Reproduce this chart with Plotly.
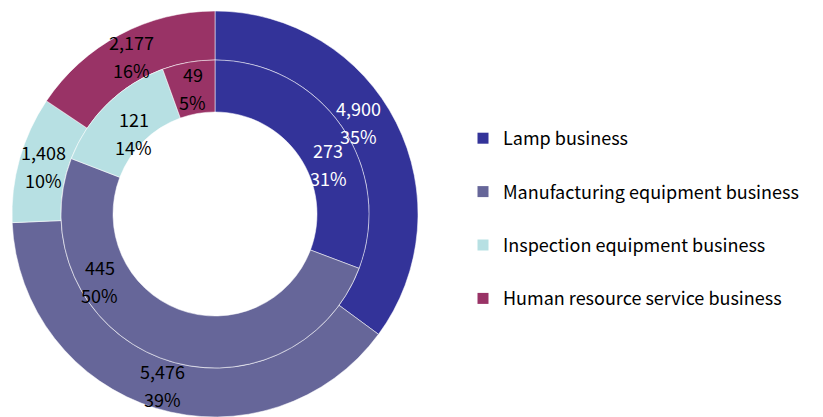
import math
import plotly.graph_objects as go

categories = ["Lamp business", "Manufacturing equipment business",
              "Inspection equipment business", "Human resource service business"]
outer_values = [4900, 5476, 1408, 2177]
outer_pct = ["35%", "39%", "10%", "16%"]
inner_values = [273, 445, 121, 49]
inner_pct = ["31%", "50%", "14%", "5%"]
colors = ["#333399", "#666699", "#B7E0E3", "#993366"]
text_colors = ["white", "black", "black", "black"]

W, H = 823, 417
FONT = "Noto Sans CJK JP"
FS = 18

cx, cy = 215, 214  # centre in px from left/top
r_out, r_mid, r_hole = 203, 154, 102

# manual label placements (angle deg clockwise from top, radius px) that
# the reference moved away from the slice centroid
outer_label_override = {0: (57.3, 171)}
inner_label_override = {0: (66, 124), 1: (240, 133), 2: (315, 115)}


def dom(r):
    return dict(x=[(cx - r) / W, (cx + r) / W],
                y=[(H - (cy + r)) / H, (H - (cy - r)) / H])


fig = go.Figure()
for vals, ro, ri in [(outer_values, r_out, r_mid), (inner_values, r_mid, r_hole)]:
    fig.add_trace(go.Pie(
        values=vals, labels=categories, textinfo="none",
        hole=ri / ro, sort=False, direction="clockwise", rotation=0,
        marker=dict(colors=colors, line=dict(color="rgba(255,255,255,0.75)", width=0.7)),
        domain=dom(ro), showlegend=False, hoverinfo="label+value+percent",
    ))


def add_labels(vals, pcts, ro, ri, overrides):
    total = sum(vals)
    cum = 0
    for i, (v, p) in enumerate(zip(vals, pcts)):
        mid = (cum + v / 2) / total * 360
        cum += v
        ang, rad = overrides.get(i, (mid, (ro + ri) / 2))
        a = math.radians(ang)
        px = cx + rad * math.sin(a)
        py = cy - rad * math.cos(a)
        for txt, shift in [(f"{v:,}", 14), (p, -14)]:
            fig.add_annotation(
                x=px / W, y=(H - py) / H, xref="paper", yref="paper",
                text=txt, showarrow=False, yshift=shift,
                font=dict(size=FS, family=FONT, color=text_colors[i]),
                xanchor="center", yanchor="middle",
            )


add_labels(outer_values, outer_pct, r_out, r_mid, outer_label_override)
add_labels(inner_values, inner_pct, r_mid, r_hole, inner_label_override)

for name, c in zip(categories, colors):
    fig.add_trace(go.Scatter(
        x=[None], y=[None], mode="markers", name=name, legendgroup=name,
        marker=dict(symbol="square", size=11, color=c),
    ))

fig.update_layout(
    width=W, height=H, margin=dict(l=0, r=0, t=0, b=0),
    paper_bgcolor="white", plot_bgcolor="white",
    font=dict(family=FONT, size=FS, color="black"),
    xaxis=dict(visible=False), yaxis=dict(visible=False),
    legend=dict(x=463 / W, xanchor="left", y=(H - 120) / H, yanchor="top",
                tracegroupgap=27, font=dict(size=FS, family=FONT),
                bgcolor="rgba(0,0,0,0)"),
)
fig.write_html("out.html")
